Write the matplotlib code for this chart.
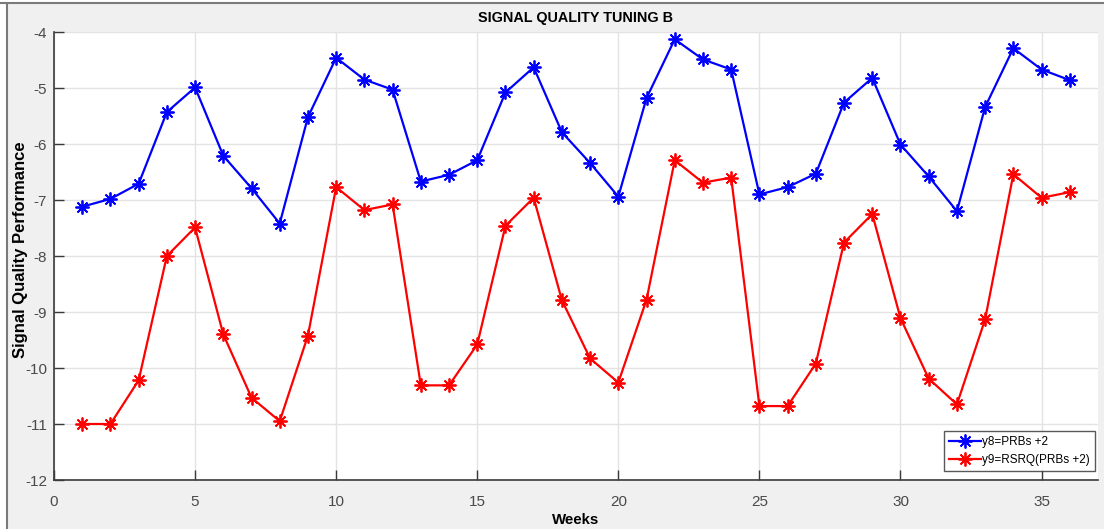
import matplotlib
matplotlib.use('Agg')
import matplotlib.pyplot as plt
from matplotlib.patches import Rectangle
from matplotlib.lines import Line2D
import numpy as np

# Weekly signal quality values
weeks = np.arange(1, 37)
y8_prbs = [-7.12, -6.98, -6.71, -5.43, -4.99, -6.21, -6.79, -7.42, -5.52, -4.46,
           -4.85, -5.03, -6.67, -6.55, -6.29, -5.08, -4.63, -5.79, -6.34, -6.94,
           -5.18, -4.13, -4.49, -4.67, -6.90, -6.77, -6.53, -5.26, -4.82, -6.01,
           -6.58, -7.20, -5.34, -4.29, -4.67, -4.86]
y9_rsrq = [-11.0, -11.0, -10.22, -8.0, -7.49, -9.40, -10.53, -10.95, -9.42, -6.77,
           -7.18, -7.08, -10.31, -10.31, -9.58, -7.46, -6.96, -8.79, -9.83, -10.26,
           -8.78, -6.29, -6.69, -6.60, -10.68, -10.68, -9.92, -7.76, -7.25, -9.11,
           -10.19, -10.65, -9.13, -6.54, -6.96, -6.86]

xticks = [0, 5, 10, 15, 20, 25, 30, 35]
yticks = [-12, -11, -10, -9, -8, -7, -6, -5, -4]

plt.rcParams['font.family'] = ['Liberation Sans', 'DejaVu Sans']
plt.rcParams['axes.unicode_minus'] = False

W, H = 1104, 529
fig = plt.figure(figsize=(W / 100, H / 100), dpi=100)
fig.patch.set_facecolor('#f0f0f0')

# window frame: white strips and dark border lines
fig.add_artist(Rectangle((0, 1 - 3 / H), 1, 3 / H, transform=fig.transFigure,
                         facecolor='white', edgecolor='none', zorder=0))
fig.add_artist(Rectangle((0, 0), 7 / W, 1, transform=fig.transFigure,
                         facecolor='white', edgecolor='none', zorder=0))
fig.add_artist(Line2D([0, 1], [1 - 3 / H, 1 - 3 / H], transform=fig.transFigure,
                      color='#7a7a7a', lw=1.5))
fig.add_artist(Line2D([7 / W, 7 / W], [0, 1 - 3 / H], transform=fig.transFigure,
                      color='#7a7a7a', lw=1.5))

ax = fig.add_axes([54 / W, 1 - 480 / H, 1044 / W, 448 / H])
ax.set_facecolor('white')

# 8-armed asterisk marker
star = (8, 2, 0)
ax.plot(weeks, y8_prbs, color='#0000ff', lw=1.6, marker=star, ms=10,
        markeredgewidth=1.3, label='y8=PRBs +2')
ax.plot(weeks, y9_rsrq, color='#ff0000', lw=1.6, marker=star, ms=10,
        markeredgewidth=1.3, label='y9=RSRQ(PRBs +2)')

ax.set_xlim(0, 37)
ax.set_ylim(-12, -4)
ax.set_xticks(xticks)
ax.set_yticks(yticks)
ax.grid(True, color='#e3e3e3', lw=1)
ax.set_axisbelow(True)

for pos in ['top', 'right']:
    ax.spines[pos].set_visible(False)
for pos in ['left', 'bottom']:
    ax.spines[pos].set_color('#3a3a3a')
    ax.spines[pos].set_linewidth(1.2)

ax.tick_params(direction='in', length=7, width=1, color='#3a3a3a',
               labelsize=11, labelcolor='#4a4a4a')
ax.tick_params(axis='y', pad=5)
ax.tick_params(axis='x', pad=11)

ax.set_title('SIGNAL QUALITY TUNING B', fontsize=10.4, fontweight='bold', pad=7)
ax.set_xlabel('Weeks', fontsize=10.8, fontweight='bold', labelpad=3)
ax.set_ylabel('Signal Quality Performance', fontsize=12, fontweight='bold')
ax.yaxis.set_label_coords(-26 / 1044, 0.513)

leg = ax.legend(loc='lower right', bbox_to_anchor=(0.9975, 0.02), fontsize=8.5,
                frameon=True, fancybox=False, borderpad=0.45, labelspacing=0.45,
                handlelength=2.7, handletextpad=0.1, borderaxespad=0)
leg.get_frame().set_edgecolor('#303030')
leg.get_frame().set_linewidth(1)

plt.savefig('out.png', dpi=100, facecolor=fig.get_facecolor())
